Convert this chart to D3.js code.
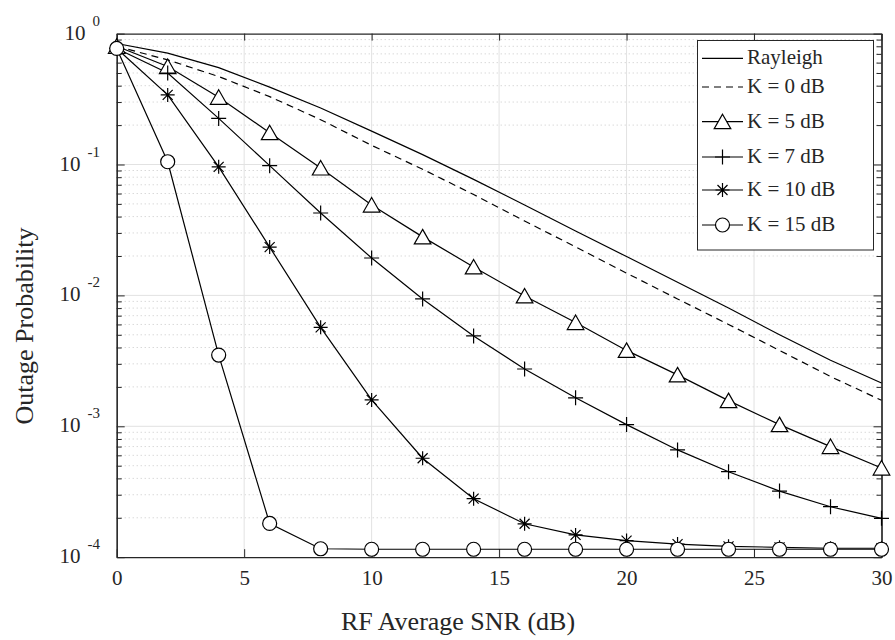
<!DOCTYPE html>
<html><head><meta charset="utf-8">
<script src="https://cdn.jsdelivr.net/npm/d3@7"></script>
<style>
body{margin:0;background:#fff}
svg{display:block}
text{font-family:"Liberation Serif","Times New Roman",serif;fill:#262626}
</style>
</head><body>
<svg id="c" width="895" height="640" font-family='"Liberation Serif","Times New Roman",serif'></svg>
<script>
// ---- data ----
const snrDb = [0, 2, 4, 6, 8, 10, 12, 14, 16, 18, 20, 22, 24, 26, 28, 30];
const rayleigh = [0.84, 0.71, 0.55, 0.39, 0.27, 0.18, 0.119, 0.077, 0.049, 0.031, 0.0198, 0.0126, 0.0080, 0.0050, 0.0032, 0.00214];
const k0dB = [0.80, 0.63, 0.47, 0.33, 0.22, 0.14, 0.092, 0.059, 0.037, 0.0235, 0.0148, 0.0094, 0.0060, 0.0038, 0.0024, 0.00158];
const k5dB = [0.80, 0.56, 0.326, 0.175, 0.094, 0.049, 0.028, 0.0165, 0.0099, 0.0062, 0.0038, 0.00247, 0.00157, 0.00103, 0.00070, 0.00048];
const k7dB = [0.77, 0.50, 0.225, 0.098, 0.0426, 0.0193, 0.0094, 0.0049, 0.00274, 0.00165, 0.00103, 0.00066, 0.00045, 0.00032, 0.000243, 0.000198];
const k10dB = [0.77, 0.34, 0.096, 0.0234, 0.0057, 0.00159, 0.00057, 0.00028, 0.00018, 0.000148, 0.000134, 0.000126, 0.000121, 0.000119, 0.000117, 0.000117];
const k15dB = [0.77, 0.105, 0.0035, 0.000181, 0.000116, 0.000115, 0.000115, 0.000115, 0.000115, 0.000115, 0.000115, 0.000115, 0.000115, 0.000115, 0.000115, 0.000115];
const seriesNames = ["Rayleigh", "K = 0 dB", "K = 5 dB", "K = 7 dB", "K = 10 dB", "K = 15 dB"];
const seriesMarkers = ["none", "none", "triangle", "plus", "asterisk", "circle"];
const xTickValues = [0, 5, 10, 15, 20, 25, 30];
const yTickExponents = [0, -1, -2, -3, -4];
const xLabel = "RF Average SNR (dB)";
const yLabel = "Outage Probability";

// ---- layout ----
const FONT = '"Liberation Serif","Times New Roman",serif';
const svg = d3.select("#c");
const L = 116.7, R = 881.5, T = 33.6, B = 557.2;
const axisColor = "#262626";
const x = d3.scaleLinear().domain([0, 30]).range([L, R]);
const y = d3.scaleLog().domain([1e-4, 1]).range([B, T]);

const allSeries = [rayleigh, k0dB, k5dB, k7dB, k10dB, k15dB];

// grid
const minorVals = [];
yTickExponents.slice(0, -1).forEach(e => {
  for (let m = 2; m <= 9; m++) minorVals.push(m * Math.pow(10, e - 1));
});
const majorVals = yTickExponents.map(e => Math.pow(10, e));
const grid = svg.append("g");
grid.selectAll("line.minor").data(minorVals).join("line")
  .attr("x1", L).attr("x2", R).attr("y1", d => y(d)).attr("y2", d => y(d))
  .attr("stroke", "#c8c8c8").attr("stroke-width", 1).attr("stroke-dasharray", "1,3");
grid.selectAll("line.majh").data(majorVals.slice(1, -1)).join("line")
  .attr("x1", L).attr("x2", R).attr("y1", d => y(d)).attr("y2", d => y(d))
  .attr("stroke", "#e2e2e2").attr("stroke-width", 1);
grid.selectAll("line.majv").data(xTickValues.slice(1, -1)).join("line")
  .attr("y1", T).attr("y2", B).attr("x1", d => x(d)).attr("x2", d => x(d))
  .attr("stroke", "#e2e2e2").attr("stroke-width", 1);

// axes
function styleAxis(g) {
  g.attr("font-family", FONT);
  g.selectAll("path.domain").attr("stroke", axisColor).attr("stroke-width", 1.2);
  g.selectAll(".tick line").attr("stroke", axisColor).attr("stroke-width", 1);
}
const xb = svg.append("g").attr("transform", `translate(0,${B})`)
  .call(d3.axisBottom(x).tickValues(xTickValues).tickSize(-8).tickSizeOuter(0).tickPadding(13).tickFormat(d3.format("d")));
styleAxis(xb);
xb.selectAll(".tick text").attr("font-size", 21).attr("fill", axisColor).style("font-family", FONT);
const xt = svg.append("g").attr("transform", `translate(0,${T})`)
  .call(d3.axisTop(x).tickValues(xTickValues).tickSize(-7).tickSizeOuter(0).tickFormat(""));
styleAxis(xt);
const yl = svg.append("g").attr("transform", `translate(${L},0)`)
  .call(d3.axisLeft(y).tickValues(majorVals).tickSize(-8).tickSizeOuter(0).tickFormat(""));
styleAxis(yl);
const ylm = svg.append("g").attr("transform", `translate(${L},0)`)
  .call(d3.axisLeft(y).tickValues(minorVals).tickSize(-5).tickSizeOuter(0).tickFormat(""));
styleAxis(ylm);
const yr = svg.append("g").attr("transform", `translate(${R},0)`)
  .call(d3.axisRight(y).tickValues(majorVals).tickSize(-8).tickSizeOuter(0).tickFormat(""));
styleAxis(yr);
const yrm = svg.append("g").attr("transform", `translate(${R},0)`)
  .call(d3.axisRight(y).tickValues(minorVals).tickSize(-5).tickSizeOuter(0).tickFormat(""));
styleAxis(yrm);

// y tick labels 10^e
const yLabs = svg.append("g");
yTickExponents.forEach(e => {
  const v = Math.pow(10, e);
  const t = yLabs.append("text").attr("x", 100).attr("y", y(v) + 6)
    .attr("text-anchor", "end").attr("font-size", 21).attr("fill", axisColor).style("font-family", FONT);
  t.append("tspan").text("10");
  t.append("tspan").attr("font-size", 15).attr("dx", 7).attr("dy", -14).text(String(e));
});

// axis titles
svg.append("text").attr("x", 458).attr("y", 630).attr("text-anchor", "middle")
  .attr("font-size", 26).attr("fill", axisColor).style("font-family", FONT).text(xLabel);
svg.append("text").attr("transform", `translate(33,326) rotate(-90)`)
  .attr("text-anchor", "middle").attr("font-size", 26).attr("fill", axisColor).style("font-family", FONT).text(yLabel);

// markers
function drawMarker(g, type, cx, cy) {
  if (type === "triangle") {
    g.append("path").attr("d", `M${cx},${cy - 7.5}L${cx + 8.3},${cy + 7}L${cx - 8.3},${cy + 7}Z`)
      .attr("fill", "#fff").attr("stroke", "#000").attr("stroke-width", 1.2);
  } else if (type === "circle") {
    g.append("circle").attr("cx", cx).attr("cy", cy).attr("r", 7)
      .attr("fill", "#fff").attr("stroke", "#000").attr("stroke-width", 1.2);
  } else if (type === "plus") {
    g.append("path").attr("d", `M${cx - 7.5},${cy}H${cx + 7.5}M${cx},${cy - 7.5}V${cy + 7.5}`)
      .attr("stroke", "#000").attr("stroke-width", 1.2).attr("fill", "none");
  } else if (type === "asterisk") {
    const a = 7, dd = 5;
    g.append("path").attr("d",
      `M${cx - a},${cy}H${cx + a}M${cx},${cy - a}V${cy + a}` +
      `M${cx - dd},${cy - dd}L${cx + dd},${cy + dd}M${cx - dd},${cy + dd}L${cx + dd},${cy - dd}`)
      .attr("stroke", "#000").attr("stroke-width", 1.2).attr("fill", "none");
  }
}

const line = d3.line().x(d => x(d[0])).y(d => y(d[1]));
const plot = svg.append("g");
allSeries.forEach((vals, i) => {
  const pts = snrDb.map((s, j) => [s, vals[j]]);
  plot.append("path").attr("d", line(pts)).attr("fill", "none").attr("stroke", "#000")
    .attr("stroke-width", 1.2).attr("stroke-dasharray", i === 1 ? "7,5" : null);
});
allSeries.forEach((vals, i) => {
  if (seriesMarkers[i] === "none") return;
  const g = plot.append("g");
  snrDb.forEach((s, j) => drawMarker(g, seriesMarkers[i], x(s), y(vals[j])));
});

// legend
const lg = svg.append("g");
lg.append("rect").attr("x", 697.5).attr("y", 40.5).attr("width", 176).attr("height", 209.5)
  .attr("fill", "#fff").attr("stroke", axisColor).attr("stroke-width", 1);
const legendY = [58.3, 87, 121.7, 157, 190, 225];
seriesNames.forEach((name, i) => {
  const yy = legendY[i];
  lg.append("line").attr("x1", 702).attr("x2", 743).attr("y1", yy).attr("y2", yy)
    .attr("stroke", "#000").attr("stroke-width", 1.2).attr("stroke-dasharray", i === 1 ? "7,5" : null);
  drawMarker(lg, seriesMarkers[i], 722.5, yy);
  lg.append("text").attr("x", 747).attr("y", yy + 6).attr("font-size", 21).attr("fill", "#000")
    .style("font-family", FONT).text(name);
});
</script>
</body></html>
